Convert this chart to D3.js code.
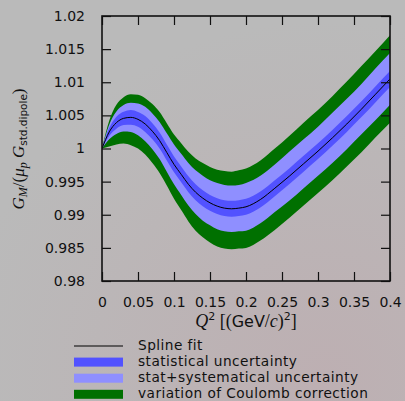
<!DOCTYPE html>
<html>
<head>
<meta charset="utf-8">
<script src="https://cdnjs.cloudflare.com/ajax/libs/d3/7.8.5/d3.min.js"></script>
<style>
  html, body { margin: 0; padding: 0; }
  body { width: 405px; height: 401px; overflow: hidden; }
  text { font-family: "DejaVu Sans", sans-serif; fill: #111; }
  .math { font-family: "Liberation Serif", serif; font-style: italic; }
</style>
</head>
<body>
<script>
(function() {
    "use strict";

    // Q^2 grid in (GeV/c)^2 and the spline fit
    var qVals = [0, 0.01, 0.02, 0.03, 0.04, 0.05, 0.06, 0.07, 0.08, 0.09, 0.10,
                 0.11, 0.12, 0.13, 0.14, 0.15, 0.16, 0.17, 0.18, 0.19, 0.20,
                 0.22, 0.24, 0.26, 0.28, 0.30, 0.32, 0.34, 0.36, 0.38, 0.40];
    var splineFit = [1.0, 1.0025, 1.0039, 1.00455, 1.0047, 1.0044, 1.0037, 1.0026, 1.0012, 0.9994, 0.9976,
                     0.9961, 0.9946, 0.9934, 0.9925, 0.9918, 0.9913, 0.9910, 0.9909, 0.9910, 0.9912,
                     0.9923, 0.9940, 0.9958, 0.9977, 0.9996, 1.0016, 1.0037, 1.0059, 1.0082, 1.0105];
    // half widths of the bands
    var statErr = [0, 0.0006, 0.0009, 0.0010, 0.0011, 0.0011, 0.0012, 0.0012, 0.0012, 0.0012, 0.0012,
                   0.0012, 0.0012, 0.0012, 0.0012, 0.0012, 0.0012, 0.0012, 0.0012, 0.0012, 0.0012,
                   0.0012, 0.0012, 0.0012, 0.0012, 0.0012, 0.0012, 0.0012, 0.0012, 0.0012, 0.0012];
    var systErr = [0, 0.0011, 0.0017, 0.0020, 0.0022, 0.0024, 0.0026, 0.0027, 0.0028, 0.0029, 0.0030,
                   0.0031, 0.0032, 0.0033, 0.0034, 0.0034, 0.0035, 0.0035, 0.0035, 0.0035, 0.0036,
                   0.0036, 0.0036, 0.0037, 0.0037, 0.0037, 0.0038, 0.0038, 0.0038, 0.0039, 0.0039];
    var coulUp = [0, 0.0017, 0.0027, 0.0032, 0.0035, 0.0037, 0.0039, 0.0041, 0.0043, 0.0044, 0.0045,
                  0.0047, 0.0049, 0.0051, 0.0053, 0.0054, 0.0055, 0.0056, 0.0056, 0.0057, 0.0058,
                  0.0059, 0.0060, 0.0061, 0.0062, 0.0062, 0.0063, 0.0064, 0.0065, 0.0065, 0.0066];
    var coulDown = [0, 0.0022, 0.0033, 0.0038, 0.0042, 0.0044, 0.0046, 0.0048, 0.0049, 0.0050, 0.0052,
                    0.0054, 0.0056, 0.0058, 0.0059, 0.0060, 0.0061, 0.0061, 0.0061, 0.0061, 0.0062,
                    0.0062, 0.0063, 0.0063, 0.0063, 0.0063, 0.0064, 0.0064, 0.0065, 0.0065, 0.0066];

    var xTicks = [0, 0.05, 0.1, 0.15, 0.2, 0.25, 0.3, 0.35, 0.4];
    var yTicks = [0.98, 0.985, 0.99, 0.995, 1, 1.005, 1.01, 1.015, 1.02];
    var legendLabels = ["Spline fit", "statistical uncertainty",
                        "stat+systematical uncertainty", "variation of Coulomb correction"];

    var W = 405, H = 401;
    var left = 102, right = 390, top = 16, bottom = 281;
    var TICK = 9;

    var svg = d3.select("body").append("svg")
        .attr("width", W).attr("height", H);

    // grey background with a faint pinkish tint towards the bottom right
    var defs = svg.append("defs");
    var grad = defs.append("radialGradient").attr("id", "bg")
        .attr("cx", "0.8").attr("cy", "0.95").attr("r", "0.9");
    grad.append("stop").attr("offset", "0").attr("stop-color", "#bdafb2");
    grad.append("stop").attr("offset", "1").attr("stop-color", "#bababa");
    svg.append("rect").attr("width", W).attr("height", H).attr("fill", "url(#bg)");

    defs.append("clipPath").attr("id", "plotclip").append("rect")
        .attr("x", left).attr("y", top).attr("width", right - left).attr("height", bottom - top);

    var x = d3.scaleLinear().domain([0, 0.4]).range([left, right]);
    var y = d3.scaleLinear().domain([0.98, 1.02]).range([bottom, top]);

    var rows = qVals.map(function(q, i) {
        return { q: q, v: splineFit[i], st: statErr[i], sy: systErr[i], cu: coulUp[i], cd: coulDown[i] };
    });

    var curve = d3.curveMonotoneX;
    function band(lo, hi) {
        return d3.area().curve(curve)
            .x(function(d) { return x(d.q); })
            .y0(function(d) { return y(lo(d)); })
            .y1(function(d) { return y(hi(d)); });
    }

    var plot = svg.append("g").attr("clip-path", "url(#plotclip)");
    plot.append("path").datum(rows).attr("fill", "#007000")
        .attr("d", band(function(d) { return d.v - d.cd; }, function(d) { return d.v + d.cu; }));
    plot.append("path").datum(rows).attr("fill", "#8f8fff")
        .attr("d", band(function(d) { return d.v - d.sy; }, function(d) { return d.v + d.sy; }));
    plot.append("path").datum(rows).attr("fill", "#5252ff")
        .attr("d", band(function(d) { return d.v - d.st; }, function(d) { return d.v + d.st; }));
    plot.append("path").datum(rows).attr("fill", "none").attr("stroke", "#000").attr("stroke-width", 1)
        .attr("d", d3.line().curve(curve)
            .x(function(d) { return x(d.q); })
            .y(function(d) { return y(d.v); }));

    // axes: ticks pointing inward on all four sides
    var fmt = function(d) { return String(+d.toFixed(3)); };
    svg.append("g").attr("transform", "translate(0," + bottom + ")")
        .call(d3.axisBottom(x).tickValues(xTicks).tickSize(-TICK).tickPadding(TICK + 7).tickFormat(fmt));
    svg.append("g").attr("transform", "translate(0," + top + ")")
        .call(d3.axisTop(x).tickValues(xTicks).tickSize(-TICK).tickFormat(""));
    svg.append("g").attr("transform", "translate(" + left + ",0)")
        .call(d3.axisLeft(y).tickValues(yTicks).tickSize(-TICK).tickPadding(TICK + 8).tickFormat(fmt));
    svg.append("g").attr("transform", "translate(" + right + ",0)")
        .call(d3.axisRight(y).tickValues(yTicks).tickSize(-TICK).tickFormat(""));

    svg.selectAll(".domain").remove();
    svg.selectAll(".tick line").attr("stroke", "#111").attr("stroke-width", 1.2);
    svg.selectAll(".tick text").attr("font-family", "DejaVu Sans, sans-serif")
        .attr("font-size", 14).attr("fill", "#111");

    svg.append("rect").attr("x", left).attr("y", top)
        .attr("width", right - left).attr("height", bottom - top)
        .attr("fill", "none").attr("stroke", "#111").attr("stroke-width", 1.6);

    // x axis title
    var xt = svg.append("text").attr("x", (left + right) / 2).attr("y", 327)
        .attr("text-anchor", "middle").attr("font-size", 16);
    xt.append("tspan").attr("class", "math").attr("font-size", 18).text("Q");
    xt.append("tspan").attr("font-size", 11).attr("dy", -7).text("2");
    xt.append("tspan").attr("dy", 7).attr("font-family", "Liberation Serif, serif").attr("font-size", 18).text(" [(");
    xt.append("tspan").text("GeV");
    xt.append("tspan").attr("font-family", "Liberation Serif, serif").attr("font-size", 18).text("/");
    xt.append("tspan").attr("class", "math").attr("font-size", 18).text("c");
    xt.append("tspan").attr("font-family", "Liberation Serif, serif").attr("font-size", 18).text(")");
    xt.append("tspan").attr("font-size", 11).attr("dy", -7).text("2");
    xt.append("tspan").attr("dy", 7).attr("font-family", "Liberation Serif, serif").attr("font-size", 18).text("]");

    // y axis title
    var yt = svg.append("text").attr("transform", "translate(24,149) rotate(-90)")
        .attr("text-anchor", "middle").attr("font-size", 17);
    yt.append("tspan").attr("class", "math").text("G");
    yt.append("tspan").attr("class", "math").attr("font-size", 12).attr("dy", 3).text("M");
    yt.append("tspan").attr("dy", -3).attr("font-family", "Liberation Serif, serif").text("/(");
    yt.append("tspan").attr("class", "math").text("μ");
    yt.append("tspan").attr("class", "math").attr("font-size", 12).attr("dy", 3).text("p");
    yt.append("tspan").attr("class", "math").attr("dy", -3).text(" G");
    yt.append("tspan").attr("font-size", 10.5).attr("dy", 3).text("std.dipole");
    yt.append("tspan").attr("dy", -3).attr("font-family", "Liberation Serif, serif").text(")");

    // legend
    var legend = svg.append("g");
    var legendColors = ["#000", "#5252ff", "#8f8fff", "#007000"];
    legendLabels.forEach(function(label, i) {
        var cy = 346 + i * 16.1;
        if (i === 0) {
            legend.append("line").attr("x1", 74).attr("x2", 123).attr("y1", cy).attr("y2", cy)
                .attr("stroke", "#000").attr("stroke-width", 1.2);
        } else {
            legend.append("rect").attr("x", 74).attr("y", cy - 4.5).attr("width", 49).attr("height", 9)
                .attr("fill", legendColors[i]);
        }
        legend.append("text").attr("x", 138).attr("y", cy + 3.5)
            .attr("font-size", 13.7).attr("letter-spacing", 0.45).text(label);
    });
}());
</script>
</body>
</html>
